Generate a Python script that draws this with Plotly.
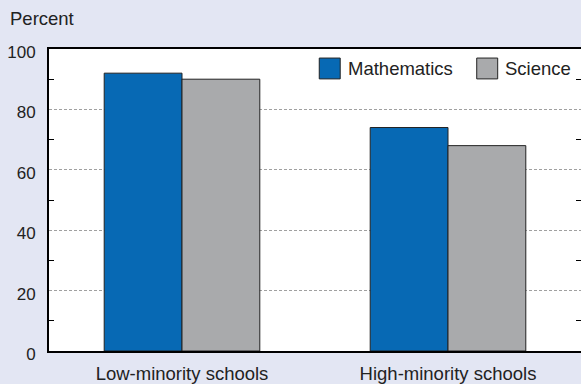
import plotly.graph_objects as go

# Percent of students by school minority level
categories = ["Low-minority schools", "High-minority schools"]
series_names = ["Mathematics", "Science"]
mathematics = [92, 74]
science = [90, 68]
y_tick_values = [0, 20, 40, 60, 80, 100]
y_tick_labels = ["0", "20", "40", "60", "80", "100"]
y_minor_values = [10, 30, 50, 70, 90]

FONT = "Liberation Sans, Arial, Helvetica, sans-serif"
BLUE = "#0769B4"
GRAY = "#A9AAAC"
EDGE = "#222222"
BG = "#E3E6F3"
colors = [BLUE, GRAY]

fig = go.Figure()
for name, vals, col in zip(series_names, [mathematics, science], colors):
    fig.add_trace(go.Bar(
        x=categories, y=vals, name=name,
        marker=dict(color=col, line=dict(color=EDGE, width=1)),
        showlegend=False, hoverinfo="skip",
    ))

# right-hand axis carrying only the inner minor ticks
fig.add_trace(go.Scatter(x=categories, y=[None, None], yaxis="y2",
                         showlegend=False, hoverinfo="skip"))

minor_ticks = dict(tickmode="array", tickvals=y_minor_values,
                   ticks="inside", ticklen=5, tickcolor="black",
                   tickwidth=1, showgrid=False)

fig.update_layout(
    width=581, height=384,
    margin=dict(l=49, r=0, t=49, b=31),
    paper_bgcolor=BG, plot_bgcolor="white",
    barmode="group", bargap=0.415, bargroupgap=0,
    font=dict(family=FONT, color="#222222"),
    xaxis=dict(
        range=[-0.5, 1.5], showline=True, linecolor="black", linewidth=2,
        mirror=True, ticks="", showgrid=False, zeroline=False,
        tickfont=dict(size=18.5, family=FONT, color="#222222"),
        ticklabelstandoff=5,
    ),
    yaxis=dict(
        range=[0, 100], tickmode="array", tickvals=y_tick_values,
        ticktext=y_tick_labels, ticks="inside", ticklen=0,
        showline=True, linecolor="black", linewidth=2, zeroline=False,
        showgrid=True, gridcolor="#a0a0a0", gridwidth=1, griddash="3px,2px",
        tickfont=dict(size=17, family=FONT, color="#222222"),
        ticklabelstandoff=8, ticklabelshift=3,
        minor=minor_ticks,
    ),
    yaxis2=dict(
        overlaying="y", side="right", range=[0, 100], showline=False,
        tickmode="array", tickvals=y_tick_values, ticks="inside", ticklen=0,
        showticklabels=False, showgrid=False, zeroline=False,
        minor=minor_ticks,
    ),
)

# axis caption
fig.add_annotation(text="Percent", xref="paper", yref="paper",
                   x=-0.077, y=1.10, xanchor="left", yanchor="middle",
                   showarrow=False, font=dict(size=18.5, family=FONT, color="#222222"))

# legend: square keys with labels, top right of the plot
legend_key_x = [0.508, 0.804]
for name, col, kx in zip(series_names, colors, legend_key_x):
    fig.add_shape(type="rect", xref="paper", yref="paper",
                  x0=kx, x1=kx + 0.0394, y0=0.901, y1=0.970,
                  fillcolor=col, line=dict(color=EDGE, width=1))
    fig.add_annotation(text=name, xref="paper", yref="paper",
                       x=kx + 0.050, y=0.936, xanchor="left", yanchor="middle",
                       showarrow=False,
                       font=dict(size=18.5, family=FONT, color="#222222"))

fig.write_html("out.html")
